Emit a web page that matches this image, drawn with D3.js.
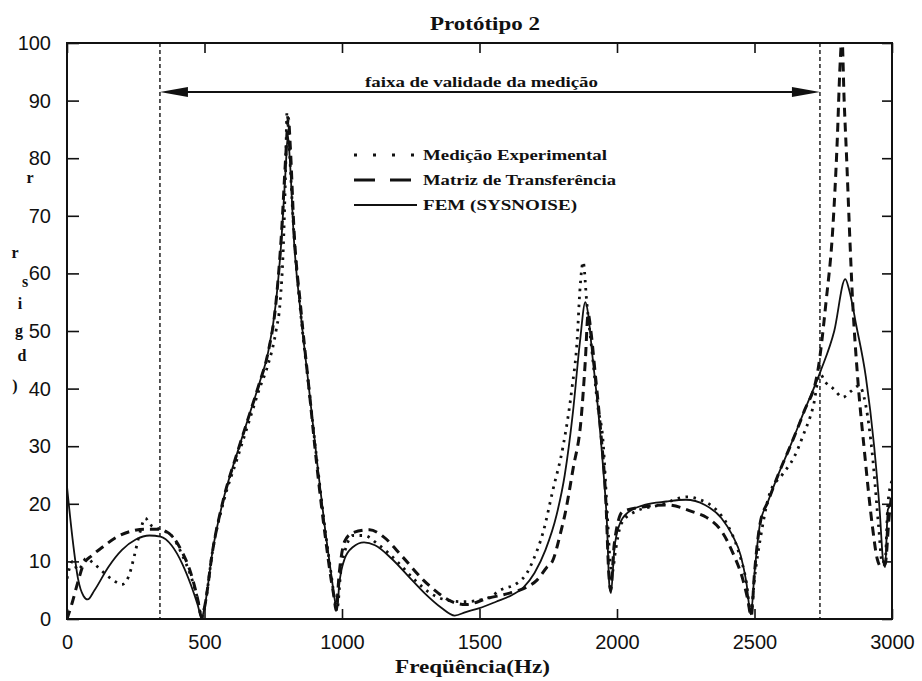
<!DOCTYPE html>
<html>
<head>
<meta charset="utf-8">
<script src="https://cdn.jsdelivr.net/npm/d3@7"></script>
<style>
  body { margin: 0; background: #fff; }
  svg { display: block; }
</style>
</head>
<body>
<svg id="chart" width="922" height="681"></svg>
<script>
// Curve data: [frequency (Hz), value]
const medicao = [[0,7],[20,10],[40,8.5],[70,10.5],[100,9.5],[140,7.8],[175,6.5],[200,6],[225,7.5],[245,11],[265,15],[285,17.5],[300,16.5],[340,15.5],[380,14.5],[420,11],[450,7.5],[475,3.5],[490,0.3],[500,2],[530,12],[570,20.5],[620,28],[660,34],[700,40],[730,44],[760,50],[775,55],[787,65],[795,78],[800,88],[808,82],[825,67],[850,53],[880,40],[910,27],[940,15],[960,8],[975,3],[983,2],[995,8],[1015,12.5],[1040,14.5],[1080,14.5],[1130,13],[1200,10],[1260,7],[1320,4.5],[1380,3.3],[1441,3],[1502,3.3],[1538,3.8],[1575,5],[1636,6.2],[1673,8],[1695,10.2],[1731,15],[1767,22.4],[1804,30],[1836,40],[1855,48.4],[1865,57],[1877,62],[1890,55],[1910,46],[1930,37],[1949,31],[1965,18],[1975,10],[1982,8],[1995,12],[2015,16.5],[2060,18.5],[2156,19.8],[2255,21.2],[2302,20.7],[2360,19],[2400,16.5],[2440,12],[2470,6.5],[2487,1],[2500,7],[2525,15],[2556,21.9],[2600,25],[2643,28],[2678,32],[2714,37],[2738,42.5],[2760,41],[2786,40],[2821,38.5],[2850,39.5],[2880,40.5],[2905,37],[2928,28.8],[2952,15.7],[2964,9.8],[2975,10],[2985,20],[3000,24]];

const matriz = [[0,0],[20,3],[40,6.5],[60,9.5],[90,11],[130,12.5],[180,14.2],[230,15.2],[280,15.6],[330,15.6],[380,14.5],[420,11.5],[450,8],[475,3.5],[490,0.2],[500,2],[530,12],[570,21],[620,29],[660,35],[700,41],[730,46],[760,55],[780,67],[795,80],[805,87],[812,82],[825,68],[850,54],[880,40],[910,26],[940,14],[960,7],[972,3.5],[978,1.5],[990,8],[1010,13.5],[1040,15],[1100,15.5],[1150,14.3],[1220,10.8],[1295,6.8],[1350,4.5],[1400,3],[1450,2.5],[1530,3.6],[1610,4.5],[1670,5.5],[1710,6.8],[1745,9],[1765,10],[1795,15],[1810,18],[1840,26],[1870,35],[1885,45],[1895,53],[1905,50],[1920,43],[1940,33],[1960,20],[1970,8],[1977,5],[1990,13],[2020,18.6],[2100,19.5],[2180,19.8],[2276,18.6],[2327,17.6],[2385,14.9],[2422,11.4],[2458,6.8],[2475,3.5],[2488,0.5],[2500,8],[2520,16.5],[2550,20.5],[2590,25.5],[2630,30],[2680,36],[2730,43],[2760,55],[2785,68],[2800,82],[2812,97],[2818,101],[2826,90],[2835,80],[2845,68],[2857,55],[2875,42],[2900,29],[2929,16],[2946,10.5],[2962,9],[2975,9.5],[2990,18],[3000,22]];

const fem = [[0,23],[20,14],[40,7],[60,4],[75,3.4],[100,5],[150,9],[200,12],[250,13.8],[300,14.5],[340,14.3],[380,12.8],[420,9.5],[450,6],[475,2.5],[490,0.2],[500,2],[530,12],[570,21],[620,29],[660,35],[700,41],[730,46],[760,55],[780,66],[795,78],[803,84],[810,80],[825,66],[850,53],[880,40],[910,27],[940,15],[960,8],[975,3],[982,1.5],[990,6],[1010,10.5],[1040,12.5],[1080,13.3],[1120,12.8],[1180,10.5],[1240,7.5],[1300,4.5],[1360,2],[1410,0.6],[1450,1.2],[1500,1.9],[1560,3],[1620,4.2],[1660,5.5],[1700,8],[1740,12],[1780,18],[1810,25],[1840,36],[1865,48],[1885,55],[1895,53],[1910,46],[1930,37],[1950,26],[1963,17],[1972,6],[1978,4.5],[1990,12],[2010,16.5],[2040,18.5],[2100,19.8],[2180,20.4],[2250,20.7],[2320,19.8],[2380,17.5],[2420,14.5],[2450,11],[2470,6.5],[2487,0.8],[2500,8],[2520,16.5],[2550,20.5],[2590,25.5],[2630,30],[2680,36],[2740,43],[2790,50],[2830,59],[2845,57],[2870,51],[2905,42],[2935,30],[2955,19],[2968,10],[2975,9],[2985,19],[3000,20]];

const xTicks = [0, 500, 1000, 1500, 2000, 2500, 3000];
const yTicks = [0, 10, 20, 30, 40, 50, 60, 70, 80, 90, 100];
const validRange = [338, 2738];   // faixa de validade (Hz)
const legendLabels = ["Medição Experimental", "Matriz de Transferência", "FEM (SYSNOISE)"];
const yLabelChars = [["r", 30, 183], ["r", 15, 258], ["s", 25, 287], ["i", 20, 309], ["g", 19, 336], ["d", 22, 361], [")", 15, 391]];

const ink = "#111";
const serif = "'Liberation Serif', 'DejaVu Serif', serif";
const sans = "'Liberation Sans', Arial, sans-serif";

var svg = d3.select("#chart");
var pLeft = 67, pRight = 892, pTop = 43, pBottom = 619;

var x = d3.scaleLinear().domain([0, 3000]).range([pLeft, pRight]);
var y = d3.scaleLinear().domain([0, 100]).range([pBottom, pTop]);

// clip for the curves
svg.append("defs").append("clipPath").attr("id", "plot")
  .append("rect").attr("x", pLeft).attr("y", pTop).attr("width", pRight - pLeft).attr("height", pBottom - pTop);

// axes (ticks drawn inwards)
var gx = svg.append("g").attr("transform", "translate(0," + pBottom + ")")
  .call(d3.axisBottom(x).tickValues(xTicks).tickSize(-10).tickPadding(16).tickFormat(d3.format("d")));
var gxTop = svg.append("g").attr("transform", "translate(0," + pTop + ")")
  .call(d3.axisTop(x).tickValues(xTicks).tickSize(-10).tickFormat(""));
var gy = svg.append("g").attr("transform", "translate(" + pLeft + ",0)")
  .call(d3.axisLeft(y).tickValues(yTicks).tickSize(-12).tickPadding(16));
var gyR = svg.append("g").attr("transform", "translate(" + pRight + ",0)")
  .call(d3.axisRight(y).tickValues(yTicks).tickSize(-10).tickFormat(""));

[gx, gxTop, gy, gyR].forEach(function(g) {
  g.select(".domain").remove();
  g.selectAll(".tick line").attr("stroke", ink).attr("stroke-width", 1.6);
  g.selectAll("text").attr("fill", ink).style("font-family", sans).style("font-size", "20px");
});

// frame
svg.append("rect")
  .attr("x", pLeft).attr("y", pTop).attr("width", pRight - pLeft).attr("height", pBottom - pTop)
  .attr("fill", "none").attr("stroke", ink).attr("stroke-width", 2);

// validity range: dashed verticals and double arrow
svg.selectAll(".vline").data(validRange).enter().append("line")
  .attr("class", "vline")
  .attr("x1", d => x(d)).attr("x2", d => x(d))
  .attr("y1", pTop).attr("y2", pBottom)
  .attr("stroke", ink).attr("stroke-width", 1.4).attr("stroke-dasharray", "4,3");

var ay = y(91.5);
var xa = x(validRange[0]), xb = x(validRange[1]);
svg.append("line")
  .attr("x1", xa + 20).attr("x2", xb - 20)
  .attr("y1", ay).attr("y2", ay)
  .attr("stroke", ink).attr("stroke-width", 2);
svg.append("path")
  .attr("d", "M" + xa + "," + ay + "L" + (xa + 28) + "," + (ay - 5) + "L" + (xa + 28) + "," + (ay + 5) + "Z")
  .attr("fill", ink);
svg.append("path")
  .attr("d", "M" + xb + "," + ay + "L" + (xb - 28) + "," + (ay - 5) + "L" + (xb - 28) + "," + (ay + 5) + "Z")
  .attr("fill", ink);
svg.append("text")
  .attr("x", 365).attr("y", 87)
  .attr("textLength", 233).attr("lengthAdjust", "spacingAndGlyphs")
  .style("font-family", serif).style("font-size", "15px").style("font-weight", "bold")
  .attr("fill", ink)
  .text("faixa de validade da medição");

// curves
var line = d3.line()
  .x(d => x(d[0]))
  .y(d => y(d[1]))
  .curve(d3.curveMonotoneX);

var curves = svg.append("g").attr("clip-path", "url(#plot)");
var series = [
  {data: medicao, dash: "2.5,5.5", width: 2.8},
  {data: matriz, dash: "9,6", width: 3},
  {data: fem, dash: null, width: 1.8}
];
curves.selectAll("path").data(series).enter().append("path")
  .attr("d", d => line(d.data))
  .attr("fill", "none")
  .attr("stroke", ink)
  .attr("stroke-width", d => d.width)
  .attr("stroke-dasharray", d => d.dash);

// legend
var legendStyles = [
  {dash: "3,16", width: 3, len: 184},
  {dash: "21,15", width: 3, len: 193},
  {dash: null, width: 2, len: 154}
];
var legend = svg.append("g");
legendLabels.forEach(function(label, i) {
  var ly = 155 + i * 25;
  legend.append("line")
    .attr("x1", 354).attr("x2", 417).attr("y1", ly).attr("y2", ly)
    .attr("stroke", ink)
    .attr("stroke-width", legendStyles[i].width)
    .attr("stroke-dasharray", legendStyles[i].dash);
  legend.append("text")
    .attr("x", 423).attr("y", ly + 5)
    .attr("textLength", legendStyles[i].len).attr("lengthAdjust", "spacingAndGlyphs")
    .style("font-family", serif).style("font-size", "15px").style("font-weight", "bold")
    .attr("fill", ink)
    .text(label);
});

// title and axis labels
svg.append("text")
  .attr("x", 430).attr("y", 30)
  .attr("textLength", 110).attr("lengthAdjust", "spacingAndGlyphs")
  .style("font-family", serif).style("font-size", "18px").style("font-weight", "bold")
  .attr("fill", ink)
  .text("Protótipo 2");

svg.append("text")
  .attr("x", 395).attr("y", 673)
  .attr("textLength", 155).attr("lengthAdjust", "spacingAndGlyphs")
  .style("font-family", serif).style("font-size", "18px").style("font-weight", "bold")
  .attr("fill", ink)
  .text("Freqüência(Hz)");

svg.selectAll(".ychar").data(yLabelChars).enter().append("text")
  .attr("class", "ychar")
  .attr("x", d => d[1]).attr("y", d => d[2])
  .attr("text-anchor", "middle")
  .style("font-family", serif).style("font-size", "16px").style("font-weight", "bold")
  .attr("fill", ink)
  .text(d => d[0]);
</script>
</body>
</html>
